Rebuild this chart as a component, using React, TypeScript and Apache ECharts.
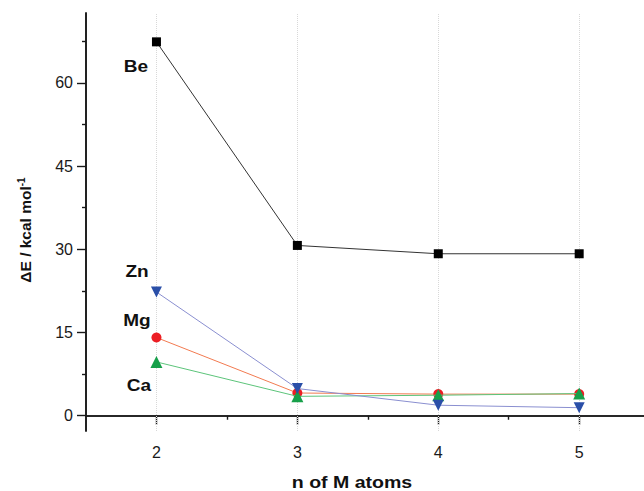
import React, { useEffect, useRef } from "react";
import * as echarts from "echarts";

const nAtoms = [2, 3, 4, 5];
const beValues = [67.4, 30.7, 29.2, 29.2];
const znValues = [22.3, 4.9, 1.9, 1.45];
const mgValues = [14.1, 4.1, 3.9, 3.9];
const caValues = [9.7, 3.5, 3.7, 4.0];
const yMajorTicks = [0, 15, 30, 45, 60];
const yMinorTicks = [7.5, 22.5, 37.5, 52.5, 67.5];
const xMajorTicks = [2, 3, 4, 5];
const xMinorTicks = [2.5, 3.5, 4.5];
const seriesNames = ["Be", "Zn", "Mg", "Ca"];

const FONT = "Liberation Sans, Arial, sans-serif";

export default function App() {
  const ref = useRef<HTMLDivElement>(null);
  useEffect(() => {
    if (!ref.current) return;
    const chart = echarts.init(ref.current, undefined, { renderer: "svg" });
    const pair = (vals: number[]) => nAtoms.map((x, i) => [x, vals[i]]);
    const axisLine = { show: true, lineStyle: { color: "#1a1a1a", width: 1.6 } };
    const yBase = { type: "value", min: -2.75, max: 72.6, gridIndex: 0, splitLine: { show: false }, axisLine };
    const xBase = { type: "value", min: 1.5, max: 5.46, gridIndex: 0, splitLine: { show: false }, axisLine };
    const tickStyle = { color: "#1a1a1a", width: 1.4 };
    const label = (name: string, x: number, y: number) => ({
      type: "text",
      x,
      y,
      scaleX: 1.12,
      style: { text: name, font: `bold 17px ${FONT}`, fill: "#111", align: "center", verticalAlign: "middle" },
    });
    const option: any = {
      animation: false,
      backgroundColor: "#fff",
      grid: { left: 86, top: 13, bottom: 60, right: 0 },
      xAxis: [
        {
          ...xBase,
          axisTick: { show: true, customValues: xMajorTicks, length: 9, lineStyle: tickStyle },
          axisLabel: { customValues: xMajorTicks, margin: 13, fontSize: 16, color: "#1a1a1a", fontFamily: FONT },
        },
        {
          ...xBase,
          position: "bottom",
          axisTick: { show: true, customValues: xMinorTicks, length: 4, lineStyle: tickStyle },
          axisLabel: { show: false },
        },
      ],
      yAxis: [
        {
          ...yBase,
          axisTick: { show: true, customValues: yMajorTicks, length: 9, lineStyle: tickStyle },
          axisLabel: { customValues: yMajorTicks, margin: 13, fontSize: 16, color: "#1a1a1a", fontFamily: FONT },
        },
        {
          ...yBase,
          position: "left",
          axisTick: { show: true, customValues: yMinorTicks, length: 4, lineStyle: tickStyle },
          axisLabel: { show: false },
        },
      ],
      series: [
        {
          name: seriesNames[0],
          type: "line",
          data: pair(beValues),
          symbol: "rect",
          symbolSize: 9,
          itemStyle: { color: "#000" },
          lineStyle: { color: "#333", width: 1 },
          z: 5,
          markLine: {
            silent: true,
            symbol: "none",
            label: { show: false },
            lineStyle: { type: "dotted", color: "#d8d8d8", width: 1 },
            data: xMajorTicks.map((x) => ({ xAxis: x })),
            z: 1,
          },
        },
        {
          name: seriesNames[3],
          type: "line",
          data: pair(caValues),
          symbol: "triangle",
          symbolSize: 12,
          itemStyle: { color: "#17a04a" },
          lineStyle: { color: "#5cc47a", width: 1 },
          z: 4,
        },
        {
          name: seriesNames[2],
          type: "line",
          data: pair(mgValues),
          symbol: "circle",
          symbolSize: 10,
          itemStyle: { color: "#ec1e24" },
          lineStyle: { color: "#f27a50", width: 1 },
          z: 3,
        },
        {
          name: seriesNames[1],
          type: "line",
          data: pair(znValues),
          symbol: "triangle",
          symbolRotate: 180,
          symbolSize: 11,
          itemStyle: { color: "#2a4fa8" },
          lineStyle: { color: "#8a8fd0", width: 1 },
          z: 6,
        },
      ],
      graphic: [
        label("Be", 136, 66),
        label("Zn", 137, 271),
        label("Mg", 137, 320),
        label("Ca", 139, 385),
        {
          type: "text",
          x: 25,
          y: 230,
          rotation: Math.PI / 2,
          style: {
            text: "ΔE / kcal mol{sup|-1}",
            font: `bold 15.5px ${FONT}`,
            fill: "#111",
            align: "center",
            verticalAlign: "middle",
            rich: { sup: { font: `bold 10px ${FONT}`, fill: "#111", verticalAlign: "top", padding: [0, 0, 8, 0] } },
          },
        },
        {
          type: "text",
          x: 352,
          y: 482,
          scaleX: 1.15,
          style: { text: "n of M atoms", font: `bold 17px ${FONT}`, fill: "#111", align: "center", verticalAlign: "middle" },
        },
      ],
    };
    chart.setOption(option);
    return () => chart.dispose();
  }, []);
  return (
    <div style={{ position: "absolute", left: 0, top: 0, width: 644, height: 491, overflow: "hidden", background: "#fff" }}>
      <div ref={ref} style={{ width: 644, height: 491 }} />
    </div>
  );
}
